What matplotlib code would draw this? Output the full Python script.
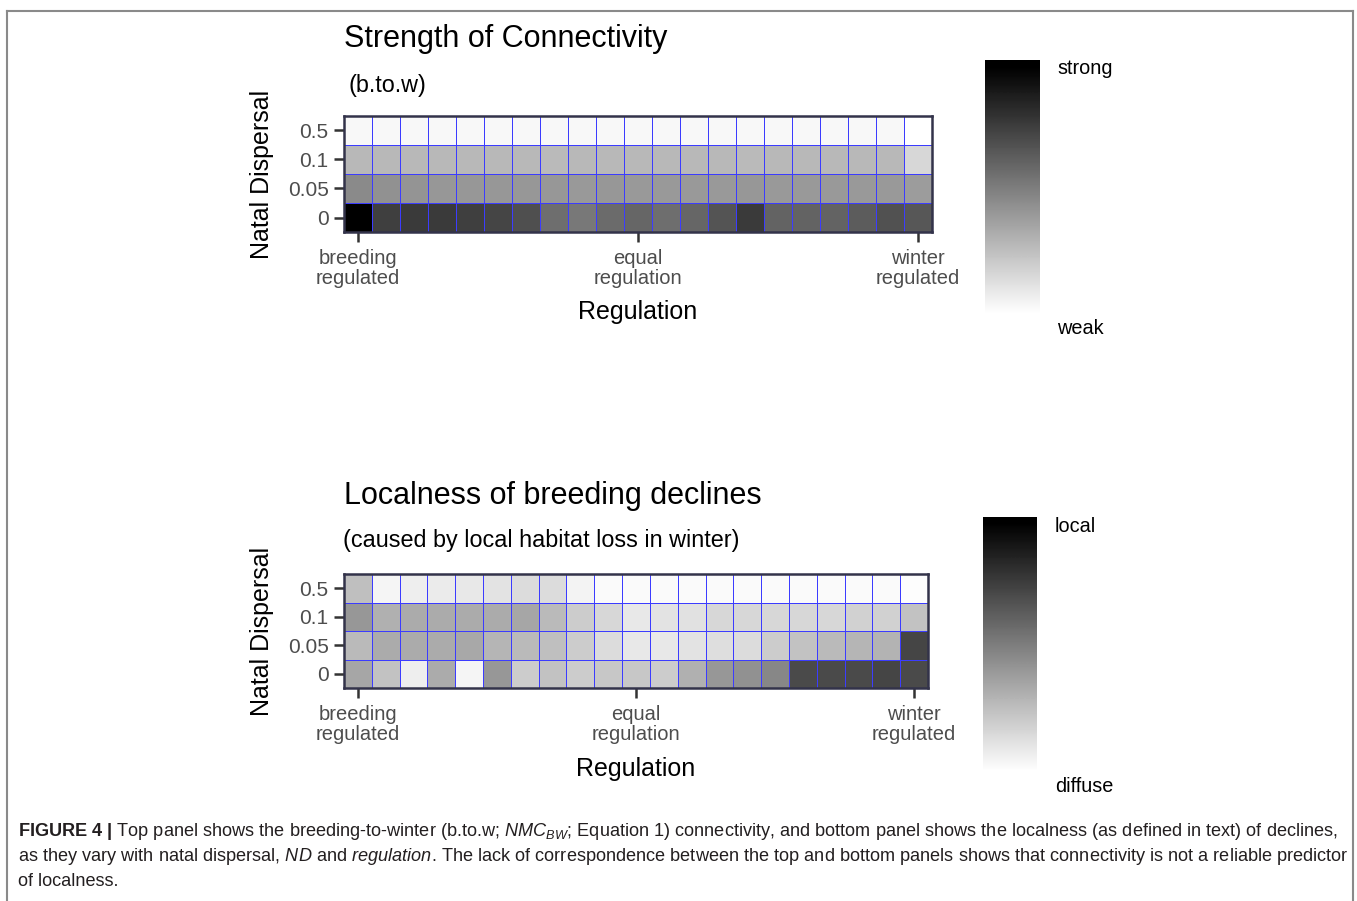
import numpy as np
import matplotlib.pyplot as plt
from matplotlib.colors import LinearSegmentedColormap
from matplotlib.lines import Line2D

plt.rcParams['font.family'] = ['Liberation Sans', 'DejaVu Sans']
plt.rcParams['mathtext.fontset'] = 'custom'
plt.rcParams['mathtext.rm'] = 'Liberation Sans'
plt.rcParams['mathtext.it'] = 'Liberation Sans:italic'
plt.rcParams['mathtext.bf'] = 'Liberation Sans:bold'

# regulation steps (0 = breeding regulated, 1 = winter regulated)
regulation = [0, 0.05, 0.1, 0.15, 0.2, 0.25, 0.3, 0.35, 0.4, 0.45, 0.5,
              0.55, 0.6, 0.65, 0.7, 0.75, 0.8, 0.85, 0.9, 0.95, 1]
reg_ticks = [0, 0.5, 1]
reg_tick_labels = ['breeding\nregulated', 'equal\nregulation', 'winter\nregulated']
nd_labels = ['0', '0.05', '0.1', '0.5']

# strength of breeding-to-winter connectivity, one row per natal dispersal
conn_nd0 = [1.00, 0.75, 0.77, 0.77, 0.75, 0.73, 0.69, 0.57, 0.53, 0.58, 0.60,
            0.57, 0.60, 0.67, 0.77, 0.61, 0.61, 0.61, 0.64, 0.68, 0.66]
conn_nd005 = [0.46, 0.43, 0.42, 0.41, 0.41, 0.41, 0.41, 0.41, 0.40, 0.41, 0.40,
              0.40, 0.40, 0.40, 0.41, 0.40, 0.40, 0.40, 0.40, 0.40, 0.39]
conn_nd01 = [0.28, 0.28, 0.28, 0.28, 0.28, 0.28, 0.28, 0.27, 0.28, 0.28, 0.28,
             0.28, 0.28, 0.28, 0.27, 0.28, 0.28, 0.28, 0.28, 0.28, 0.16]
conn_nd05 = [0.03, 0.03, 0.03, 0.03, 0.03, 0.03, 0.03, 0.03, 0.03, 0.03, 0.03,
             0.03, 0.03, 0.03, 0.03, 0.03, 0.03, 0.03, 0.03, 0.03, 0.00]

# localness of breeding declines after winter habitat loss
local_nd0 = [0.35, 0.24, 0.07, 0.33, 0.04, 0.41, 0.20, 0.24, 0.20, 0.22, 0.22,
             0.20, 0.31, 0.41, 0.43, 0.47, 0.71, 0.71, 0.71, 0.73, 0.71]
local_nd005 = [0.27, 0.33, 0.33, 0.33, 0.34, 0.29, 0.27, 0.25, 0.20, 0.14, 0.09,
               0.09, 0.11, 0.13, 0.14, 0.20, 0.24, 0.27, 0.29, 0.30, 0.73]
local_nd01 = [0.41, 0.31, 0.33, 0.33, 0.33, 0.33, 0.35, 0.27, 0.20, 0.16, 0.09,
              0.11, 0.12, 0.16, 0.16, 0.16, 0.16, 0.16, 0.18, 0.18, 0.24]
local_nd05 = [0.25, 0.04, 0.07, 0.08, 0.09, 0.11, 0.14, 0.14, 0.05, 0.02, 0.02,
              0.02, 0.02, 0.02, 0.02, 0.02, 0.02, 0.02, 0.02, 0.02, 0.01]

cmap = LinearSegmentedColormap.from_list('wb', ['#ffffff', '#000000'])

W, H = 1357, 901
fig = plt.figure(figsize=(W / 100, H / 100), dpi=100)


def px(x0, y0, x1, y1):
    return [x0 / W, 1 - y1 / H, (x1 - x0) / W, (y1 - y0) / H]


def heatmap(rect, rows, title, subtitle, sub_x, title_y, sub_y, xlab_y):
    ax = fig.add_axes(px(*rect))
    vals = np.array(rows)
    xe = np.arange(len(regulation) + 1) - 0.5
    ye = np.arange(len(nd_labels) + 1) - 0.5
    ax.pcolormesh(xe, ye, vals, cmap=cmap, vmin=0, vmax=1,
                  edgecolors='#3c3cff', linewidth=0.6)
    ax.set_xlim(xe[0], xe[-1])
    ax.set_ylim(ye[0], ye[-1])
    ax.set_xticks([regulation.index(t) for t in reg_ticks])
    ax.set_xticklabels(reg_tick_labels, fontsize=14.5, color='#4d4d4d',
                       linespacing=1.1)
    ax.set_yticks(range(len(nd_labels)))
    ax.set_yticklabels(nd_labels, fontsize=15, color='#4d4d4d')
    ax.tick_params(axis='both', length=7, width=1.8, color='#333333')
    ax.tick_params(axis='x', pad=5)
    ax.tick_params(axis='y', pad=4)
    for s in ax.spines.values():
        s.set_color('#33334a')
        s.set_linewidth(1.8)
    x0, y0, x1, y1 = rect
    fig.text(x0 / W, 1 - title_y / H, title, fontsize=22, va='baseline')
    fig.text(sub_x / W, 1 - sub_y / H, subtitle, fontsize=16.8, va='baseline')
    fig.text((x0 + x1) / 2 / W, 1 - xlab_y / H, 'Regulation', fontsize=18,
             ha='center', va='center')
    fig.text(262 / W, 1 - (y0 + y1) / 2 / H, 'Natal Dispersal', fontsize=18,
             rotation=90, ha='center', va='center')
    return ax


heatmap((344, 116, 932, 232), [conn_nd0, conn_nd005, conn_nd01, conn_nd05],
        'Strength of Connectivity', '(b.to.w)', 349, 47, 92, 312)
heatmap((344, 574, 928, 688), [local_nd0, local_nd005, local_nd01, local_nd05],
        'Localness of breeding declines', '(caused by local habitat loss in winter)',
        343, 504, 547, 769)


def colorbar(rect, top_label, bottom_label, lab_x):
    cax = fig.add_axes(px(*rect))
    grad = np.linspace(1, 0, 20).reshape(-1, 1)
    cax.imshow(grad, cmap=cmap, vmin=0, vmax=1, aspect='auto',
               interpolation='bilinear')
    cax.axis('off')
    x0, y0, x1, y1 = rect
    fig.text(lab_x / W, 1 - (y0 + 9) / H, top_label, fontsize=14.3,
             va='center')
    fig.text(lab_x / W, 1 - (y1 + 8) / H, bottom_label, fontsize=14.3,
             va='center')


colorbar((985, 60, 1040, 320), 'strong', 'weak', 1057)
colorbar((983, 517, 1037, 778), 'local', 'diffuse', 1055)

# outer frame (open at the bottom)
frame = dict(color='#8a8a8a', linewidth=1.5, transform=fig.transFigure)
fig.add_artist(Line2D([7 / W, 7 / W], [0, 1 - 11 / H], **frame))
fig.add_artist(Line2D([7 / W, 1353 / W], [1 - 11 / H, 1 - 11 / H], **frame))
fig.add_artist(Line2D([1353 / W, 1353 / W], [0, 1 - 11 / H], **frame))

caption = [
    r'$\bf{FIGURE\ 4\ |}$ Top panel shows the breeding-to-winter (b.to.w; '
    r'$\mathit{NMC}_{\mathit{BW}}$; Equation 1) connectivity, and bottom panel '
    r'shows the localness (as defined in text) of declines,',
    r'as they vary with natal dispersal, $\mathit{ND}$ and $\mathit{regulation}$. '
    r'The lack of correspondence between the top and bottom panels shows that '
    r'connectivity is not a reliable predictor',
    'of localness.',
]
for i, line in enumerate(caption):
    fig.text(18 / W, 1 - (831 + 25.5 * i) / H, line, fontsize=13.1,
             color='#231f20', va='center')

fig.savefig('out.png', dpi=100)
